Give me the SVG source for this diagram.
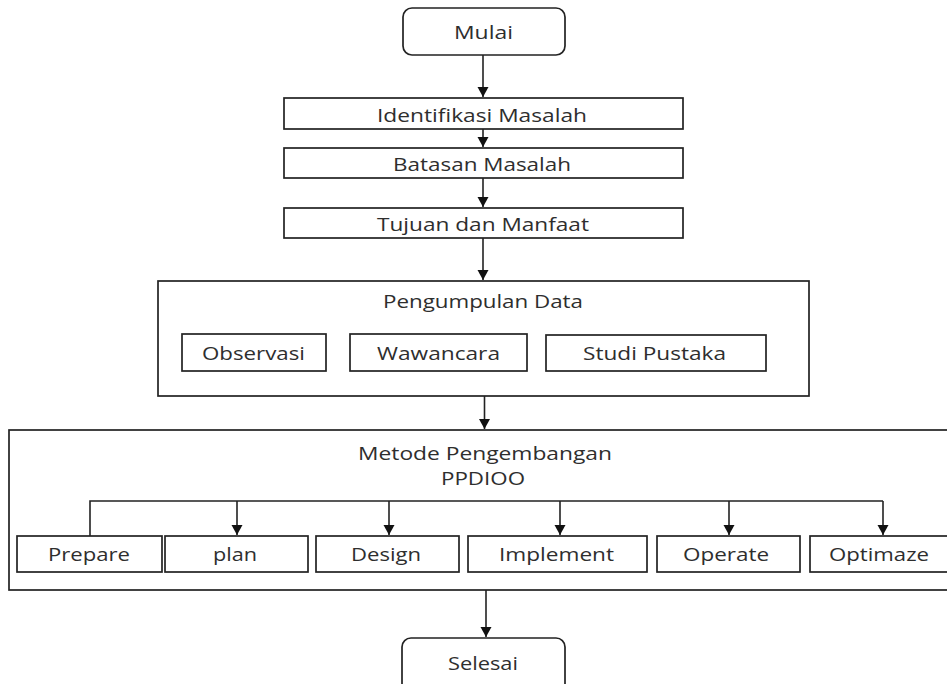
<svg xmlns="http://www.w3.org/2000/svg" width="947" height="684" viewBox="0 0 947 684">
  <style>
    .box { fill: #ffffff; stroke: #222222; stroke-width: 1.7; }
    .lbl { font-family: "Open Sans", "Noto Sans", "DejaVu Sans", sans-serif; font-size: 18.5px; fill: #2e2e2e; text-anchor: middle; }
    .wire { fill: none; stroke: #222222; stroke-width: 1.6; }
  </style>
  <defs>
    <marker id="arrow" markerUnits="userSpaceOnUse" markerWidth="12" markerHeight="12" refX="10" refY="6" orient="auto">
      <path d="M0,0.5 L10,6 L0,11.5 z" fill="#111111"/>
    </marker>
  </defs>

  <rect width="947" height="684" fill="#ffffff"/>

  <g id="mulai">
    <rect class="box" x="403" y="8" width="162" height="47" rx="9"/>
    <text class="lbl" x="483.5" y="39" textLength="59" lengthAdjust="spacingAndGlyphs">Mulai</text>
  </g>

  <g id="identifikasi">
    <rect class="box" x="284" y="98" width="399" height="31"/>
    <text class="lbl" x="482" y="122" textLength="210" lengthAdjust="spacingAndGlyphs">Identifikasi Masalah</text>
  </g>

  <g id="batasan">
    <rect class="box" x="284" y="148" width="399" height="30"/>
    <text class="lbl" x="482" y="171" textLength="178" lengthAdjust="spacingAndGlyphs">Batasan Masalah</text>
  </g>

  <g id="tujuan">
    <rect class="box" x="284" y="208" width="399" height="30"/>
    <text class="lbl" x="483" y="231" textLength="212" lengthAdjust="spacingAndGlyphs">Tujuan dan Manfaat</text>
  </g>

  <g id="pengumpulan">
    <rect class="box" x="158" y="281" width="651" height="115"/>
    <text class="lbl" x="483" y="308" textLength="200" lengthAdjust="spacingAndGlyphs">Pengumpulan Data</text>
    <g id="observasi">
      <rect class="box" x="182" y="334" width="144" height="37"/>
      <text class="lbl" x="253.5" y="360" textLength="103" lengthAdjust="spacingAndGlyphs">Observasi</text>
    </g>
    <g id="wawancara">
      <rect class="box" x="350" y="334" width="177" height="37"/>
      <text class="lbl" x="438.5" y="360" textLength="123" lengthAdjust="spacingAndGlyphs">Wawancara</text>
    </g>
    <g id="studi-pustaka">
      <rect class="box" x="546" y="335" width="220" height="36"/>
      <text class="lbl" x="654.5" y="360" textLength="143" lengthAdjust="spacingAndGlyphs">Studi Pustaka</text>
    </g>
  </g>

  <g id="metode">
    <rect class="box" x="9" y="430" width="950" height="160"/>
    <text class="lbl" x="485" y="460" textLength="254" lengthAdjust="spacingAndGlyphs">Metode Pengembangan</text>
    <text class="lbl" x="483" y="485" textLength="84" lengthAdjust="spacingAndGlyphs">PPDIOO</text>
    <g id="prepare">
      <rect class="box" x="17" y="536" width="145" height="36"/>
      <text class="lbl" x="89" y="561" textLength="82" lengthAdjust="spacingAndGlyphs">Prepare</text>
    </g>
    <g id="plan">
      <rect class="box" x="165" y="536" width="143" height="36"/>
      <text class="lbl" x="235" y="561" textLength="44" lengthAdjust="spacingAndGlyphs">plan</text>
    </g>
    <g id="design">
      <rect class="box" x="316" y="536" width="143" height="36"/>
      <text class="lbl" x="386" y="561" textLength="70" lengthAdjust="spacingAndGlyphs">Design</text>
    </g>
    <g id="implement">
      <rect class="box" x="468" y="536" width="179" height="36"/>
      <text class="lbl" x="556.5" y="561" textLength="115" lengthAdjust="spacingAndGlyphs">Implement</text>
    </g>
    <g id="operate">
      <rect class="box" x="657" y="536" width="143" height="36"/>
      <text class="lbl" x="726" y="561" textLength="86" lengthAdjust="spacingAndGlyphs">Operate</text>
    </g>
    <g id="optimaze">
      <rect class="box" x="810" y="536" width="145" height="36"/>
      <text class="lbl" x="879" y="561" textLength="100" lengthAdjust="spacingAndGlyphs">Optimaze</text>
    </g>
  </g>

  <g id="selesai">
    <rect class="box" x="402" y="638" width="163" height="60" rx="9"/>
    <text class="lbl" x="483" y="670" textLength="70" lengthAdjust="spacingAndGlyphs">Selesai</text>
  </g>

  <g id="connectors">
    <line class="wire" x1="483" y1="55" x2="483" y2="97" marker-end="url(#arrow)"/>
    <line class="wire" x1="483" y1="129" x2="483" y2="147" marker-end="url(#arrow)"/>
    <line class="wire" x1="483" y1="178" x2="483" y2="207" marker-end="url(#arrow)"/>
    <line class="wire" x1="483" y1="238" x2="483" y2="280" marker-end="url(#arrow)"/>
    <line class="wire" x1="484.5" y1="396" x2="484.5" y2="429" marker-end="url(#arrow)"/>
    <line class="wire" x1="486" y1="590" x2="486" y2="637" marker-end="url(#arrow)"/>
    <!-- PPDIOO phase branch -->
    <polyline class="wire" points="90,536 90,501 883,501"/>
    <line class="wire" x1="237" y1="501" x2="237" y2="535" marker-end="url(#arrow)"/>
    <line class="wire" x1="389" y1="501" x2="389" y2="535" marker-end="url(#arrow)"/>
    <line class="wire" x1="560" y1="501" x2="560" y2="535" marker-end="url(#arrow)"/>
    <line class="wire" x1="729" y1="501" x2="729" y2="535" marker-end="url(#arrow)"/>
    <line class="wire" x1="883" y1="501" x2="883" y2="535" marker-end="url(#arrow)"/>
  </g>
</svg>
